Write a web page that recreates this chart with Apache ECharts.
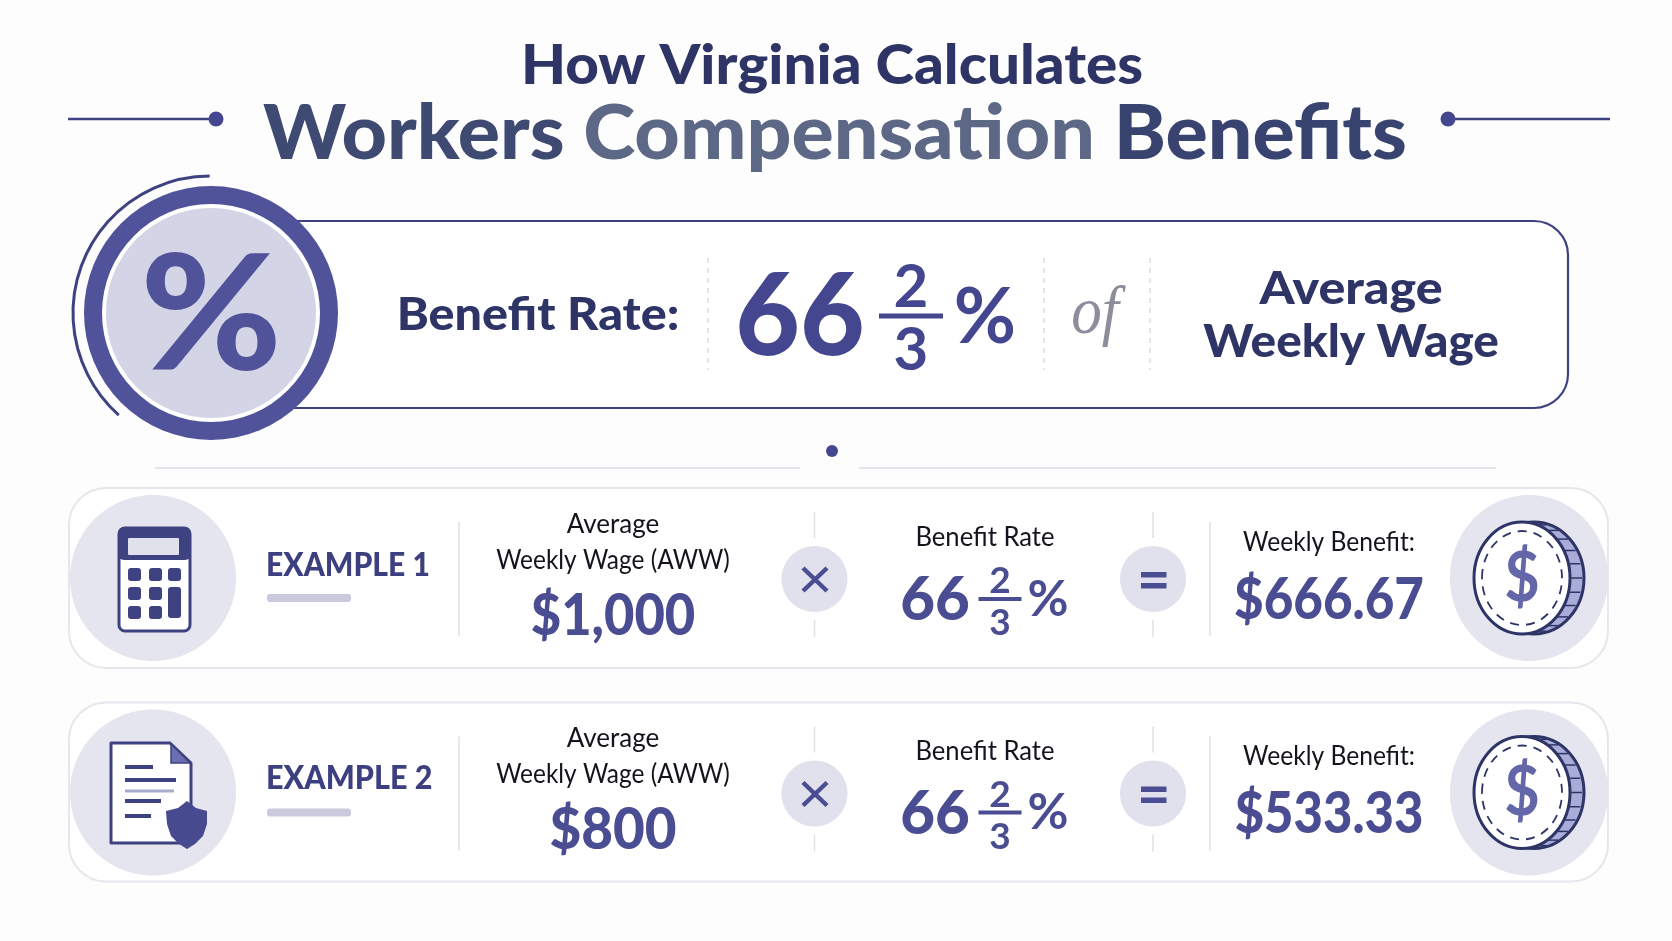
<!DOCTYPE html>
<html>
<head>
<meta charset="utf-8">
<title>How Virginia Calculates Workers Compensation Benefits</title>
<style>
  html, body { margin: 0; padding: 0; background: #fdfdfe; }
  #main { width: 1672px; height: 941px; }
</style>
</head>
<body>
<div id="main"></div>
<script src="https://cdn.jsdelivr.net/npm/echarts@6/dist/echarts.min.js"></script>
<script>
// data
const titleTop = 'How Virginia Calculates'
const titleBottom = ['Workers ', 'Compensation ', 'Benefits']
const rateLabel = 'Benefit Rate:'
const rateWhole = '66'
const rateNumerator = '2'
const rateDenominator = '3'
const rateOf = 'of'
const rateBaseLines = ['Average', 'Weekly Wage']
const exampleNames = ['EXAMPLE 1', 'EXAMPLE 2']
const wageLabelLines = ['Average', 'Weekly Wage (AWW)']
const wages = ['$1,000', '$800']
const middleLabel = 'Benefit Rate'
const resultLabel = 'Weekly Benefit:'
const weeklyBenefits = ['$666.67', '$533.33']

// colours
const NAVY = '#2e3566'
const INDIGO = '#44478f'
const PURPLE = '#4b4d92'
const LINE = '#3f4280'
const FONT = 'Lato'

let els = []

function fontOf (size, weight, family, style) {
    return (style || 'normal') + ' ' + (weight || 700) + ' ' + size + 'px "' + (family || FONT) + '"'
}
// sx: horizontal squeeze so the word widths follow the picture
function text (str, x, y, size, color, weight, sx, align, family, style) {
    els.push({
        type: 'text',
        x: x, y: y + 1 + size * 0.03,
        scaleX: sx || 1,
        style: {
            text: str,
            fill: color,
            font: fontOf(size, weight, family, style),
            textAlign: align || 'center',
            textVerticalAlign: 'middle'
        }
    })
}
function line (x1, y1, x2, y2, color, width, dash) {
    els.push({
        type: 'line',
        shape: { x1: x1, y1: y1, x2: x2, y2: y2 },
        style: { stroke: color, lineWidth: width, lineDash: dash || null }
    })
}
function rect (x, y, w, h, fill, r, stroke, lw) {
    els.push({
        type: 'rect',
        shape: { x: x, y: y, width: w, height: h, r: r || 0 },
        style: { fill: fill, stroke: stroke || null, lineWidth: lw || 0 }
    })
}
function circle (cx, cy, r, fill) {
    els.push({
        type: 'circle',
        shape: { cx: cx, cy: cy, r: r },
        style: { fill: fill }
    })
}
function ellipse (cx, cy, rx, ry, fill, stroke, lw, dash) {
    els.push({
        type: 'ellipse',
        shape: { cx: cx, cy: cy, rx: rx, ry: ry },
        style: { fill: fill, stroke: stroke || null, lineWidth: lw || 0, lineDash: dash || null }
    })
}
function fraction (cx, topY, barY, botY, barHalf, barW, size, color) {
    text(rateNumerator, cx, topY, size, color, 700)
    line(cx - barHalf, barY, cx + barHalf, barY, color, barW)
    text(rateDenominator, cx, botY, size, color, 700)
}

// header
text(titleTop, 832, 63, 56, NAVY, 900, 1.042)
els.push({
    type: 'text',
    x: 835, y: 134.5,
    scaleX: 1.024,
    style: {
        text: '{a|' + titleBottom[0] + '}{b|' + titleBottom[1] + '}{c|' + titleBottom[2] + '}',
        textAlign: 'center',
        textVerticalAlign: 'middle',
        rich: {
            a: { fill: '#3f4a72', font: fontOf(77, 900) },
            b: { fill: '#5d6886', font: fontOf(77, 900) },
            c: { fill: '#394370', font: fontOf(77, 900) }
        }
    }
})
line(68, 119, 212, 119, LINE, 2.5)
circle(216, 119, 7.5, INDIGO)
line(1452, 119, 1610, 119, LINE, 2.5)
circle(1448, 119, 7.5, INDIGO)

// rate box
rect(250, 221, 1318, 187, '#fff', 34, LINE, 2.2)
line(708, 258, 708, 370, '#dcdce4', 1.5, [5, 5])
line(1044, 258, 1044, 370, '#dcdce4', 1.5, [5, 5])
line(1150, 258, 1150, 370, '#dcdce4', 1.5, [5, 5])

// percent badge
els.push({
    type: 'arc',
    shape: { cx: 210, cy: 313, r: 137, startAngle: 2.3, endAngle: 4.71, clockwise: true },
    style: { stroke: LINE, lineWidth: 3, fill: null }
})
circle(211, 313, 127, '#50529a')
circle(211, 313, 109, '#fff')
circle(211, 313, 105, '#d3d4e6')
text('%', 211, 313, 160, '#50529a', 900, 1.07)

text(rateLabel, 538, 313, 46, NAVY, 900, 1.054)
text(rateWhole, 800, 313, 115, INDIGO, 900, 0.97)
fraction(911, 285, 316, 348, 32, 5, 60, INDIGO)
text('%', 985, 315, 76, INDIGO, 700)
text(rateOf, 1095, 312, 68, '#8c8e9c', 400, 0.9, 'center', 'Liberation Serif', 'italic')
text(rateBaseLines[0], 1351, 287, 46, NAVY, 900, 1.09)
text(rateBaseLines[1], 1351, 340, 46, NAVY, 900, 1.037)

// divider
line(155, 468, 800, 468, '#e4e4ea', 2)
line(859, 468, 1496, 468, '#e4e4ea', 2)
circle(832, 451, 6, INDIGO)

function calculatorIcon () {
    rect(119, 528, 71, 103, '#fff', 6, LINE, 3)
    rect(118, 527, 73, 33, LINE, 6)
    rect(128, 538, 51, 17, '#e1e1ec', 1)
    let cols = [128, 149, 168]
    let rows = [568, 587, 606]
    rows.forEach(function (ry, i) {
        cols.forEach(function (cx, j) {
            if (j === 2 && i === 2) return
            rect(cx, ry, 13, j === 2 && i === 1 ? 31 : 13, LINE, 3)
        })
    })
}
function documentIcon () {
    els.push({
        type: 'polygon',
        shape: { points: [[111, 743], [170, 743], [191, 763], [191, 843], [111, 843]] },
        style: { fill: '#fff', stroke: LINE, lineWidth: 3, lineJoin: 'round' }
    })
    els.push({
        type: 'polygon',
        shape: { points: [[171, 744], [190, 763], [171, 763]] },
        style: { fill: '#6b6eb0', stroke: LINE, lineWidth: 1.5 }
    })
    line(125, 767, 153, 767, LINE, 4)
    line(125, 780, 176, 780, LINE, 4)
    line(125, 791, 174, 791, '#a9abcc', 3)
    line(125, 801, 161, 801, LINE, 4)
    line(125, 816, 151, 816, LINE, 4)
    els.push({
        type: 'polygon',
        shape: { points: [[187, 801], [196, 808], [207, 811], [207, 824], [203, 836], [195, 844], [187, 849], [179, 844], [171, 836], [167, 824], [166, 811], [178, 808]] },
        style: { fill: '#474a8e' }
    })
}
function coinIcon (dy) {
    let cy = 578 + dy
    ellipse(1534, cy, 50, 56, '#a9abd9', NAVY, 3)
    // milled edge
    for (let a = -75; a <= 75; a += 15) {
        let t = a * Math.PI / 180
        let ex = 1522 + 48 * Math.cos(t)
        let ey = cy + 55 * Math.sin(t)
        line(ex, ey, ex + 12, ey, NAVY, 1.5)
    }
    ellipse(1522, cy, 48, 56, '#fff', NAVY, 3)
    ellipse(1522, cy, 40, 47, '#fff', NAVY, 1.8, [9, 7])
    text('$', 1522, cy - 2, 68, '#6366a8', 700, 0.9)
}

// one example card
function exampleCard (i, dy, tdy) {
    rect(69, 488 + dy, 1539, 180 - (i === 0 ? 0 : 1), '#fff', 37, '#e6e6ec', 2)
    ellipse(153, 578 + dy, 83, 83, '#e4e5ef')
    ellipse(1529, 578 + dy, 79, 83, '#e4e5ef')
    if (i === 0) calculatorIcon()
    else documentIcon()
    coinIcon(dy)

    text(exampleNames[i], 266, 564 + (i === 0 ? 0 : 212.5), 32, '#3c3f80', 900, i === 0 ? 0.94 : 0.955, 'left')
    rect(267, 594 + dy, 84, 8, '#c9cade', 3)

    line(459, 522 + dy, 459, 636 + dy, '#e0e0e6', 1.5)
    text(wageLabelLines[0], 613, 523 + tdy, 26, '#14141c', 400)
    text(wageLabelLines[1], 613, 559 + tdy, 26, '#14141c', 400, 0.94)
    text(wages[i], 613, 614 + tdy, 58, PURPLE, 900, i === 0 ? 0.905 : 0.945)

    // times
    line(814.5, 512 + dy, 814.5, 538 + dy, '#e0e0e6', 1.5)
    line(814.5, 620 + dy, 814.5, 637 + dy, '#e0e0e6', 1.5)
    ellipse(814.5, 579 + dy, 33, 33, '#e0e1ec')
    line(803, 568 + dy, 827, 591 + dy, PURPLE, 4.5)
    line(827, 568 + dy, 803, 591 + dy, PURPLE, 4.5)

    text(middleLabel, 985, 536 + tdy, 26, '#14141c', 400, 0.985)
    text(rateWhole, 935, 598 + tdy, 60, PURPLE, 900)
    fraction(1000, 579 + tdy, 599 + tdy, 621 + tdy, 21.5, 4, 37, PURPLE)
    text('%', 1048, 597 + tdy, 50, PURPLE, 700)

    // equals
    line(1153, 512 + dy, 1153, 538 + dy, '#e0e0e6', 1.5)
    line(1153, 620 + dy, 1153, 637 + dy, '#e0e0e6', 1.5)
    ellipse(1153, 579 + dy, 33, 33, '#e0e1ec')
    rect(1141, 572 + dy, 25.5, 5.5, PURPLE)
    rect(1141, 583 + dy, 25.5, 5.5, PURPLE)

    line(1210, 522 + dy, 1210, 636 + dy, '#e0e0e6', 1.5)
    text(resultLabel, 1329, 541 + tdy, 26, '#14141c', 400, 0.947)
    text(weeklyBenefits[i], 1329, 598 + tdy, 58, PURPLE, 900, i === 0 ? 0.88 : 0.875)
}
exampleCard(0, 0, 0)
exampleCard(1, 214.5, 213.5)

let myChart = echarts.init(document.getElementById('main'))
myChart.setOption({
    backgroundColor: '#fdfdfe',
    animation: false,
    graphic: { elements: els }
})
</script>
</body>
</html>
